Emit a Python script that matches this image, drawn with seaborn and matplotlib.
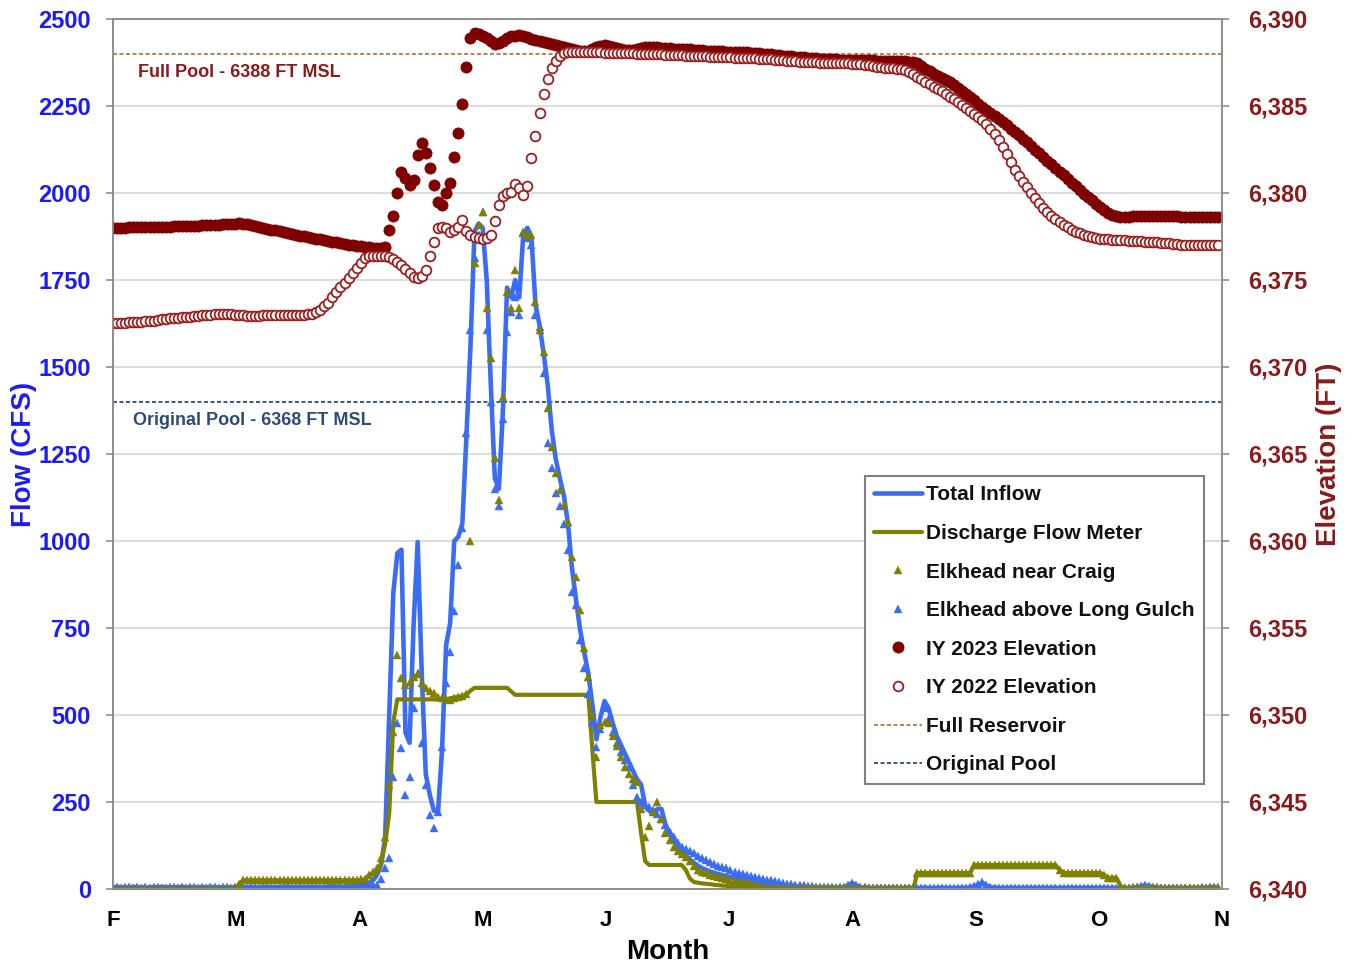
import numpy as np
import matplotlib
matplotlib.use("Agg")
import matplotlib.pyplot as plt
import matplotlib.transforms as mtransforms
from matplotlib.ticker import FuncFormatter, MultipleLocator
import seaborn as sns

# ---------------- data (daily values, day 0 = 1 Feb) ----------------
month_labels = ["F", "M", "A", "M", "J", "J", "A", "S", "O", "N"]
axis_days = 273

total_inflow = [
    5, 6, 5, 4, 5, 6, 5, 5, 4, 5,
    5, 5, 6, 5, 4, 5, 5, 6, 5, 5,
    4, 5, 5, 5, 6, 5, 5, 4, 5, 5,
    5, 6, 5, 5, 5, 4, 5, 6, 5, 5,
    5, 5, 6, 5, 5, 5, 4, 5, 6, 5,
    6, 5, 5, 6, 7, 6, 5, 6, 7, 8,
    10, 12, 14, 18, 25, 40, 70, 150, 500, 850,
    965, 975, 450, 420, 760, 997, 620, 330, 270, 225,
    220, 400, 700, 765, 1000, 1012, 1050, 1300, 1560, 1890,
    1912, 1900, 1750, 1450, 1180, 1150, 1380, 1728, 1700, 1750,
    1700, 1880, 1900, 1874, 1680, 1620, 1540, 1450, 1319, 1235,
    1180, 1130, 1050, 920, 830, 744, 680, 620, 530, 430,
    494, 540, 520, 477, 440, 415, 390, 365, 340, 315,
    300, 240, 225, 218, 230, 230, 185, 160, 140, 120,
    105, 95, 85, 75, 67, 60, 55, 50, 46, 43,
    40, 37, 34, 31, 29, 27, 25, 22, 19, 16,
    14, 12, 11, 10, 9, 8, 8, 7, 7, 6,
    6, 5, 5, 5, 4, 4, 4, 5, 4, 4,
    5, 10, 17, 10, 5, 4, 4, 3, 3, 4,
    3, 3, 4, 3, 3, 3, 4, 3, 3, 3,
    4, 3, 3, 3, 4, 3, 3, 3, 3, 4,
    3, 4, 8, 12, 18, 10, 5, 4, 3, 3,
    3, 4, 3, 3, 3, 4, 3, 3, 3, 4,
    3, 3, 4, 3, 3, 3, 4, 3, 3, 3,
    4, 3, 3, 3, 4, 3, 3, 3, 4, 3,
    3, 4, 5, 8, 10, 9, 6, 4, 4, 3,
    3, 4, 3, 3, 4, 3, 3, 4, 3, 4,
    5, 6, 4,
]

discharge = [
    0, 0, 0, 0, 0, 0, 0, 0, 0, 0,
    0, 0, 0, 0, 0, 0, 0, 0, 0, 0,
    0, 0, 0, 0, 0, 0, 0, 0, 0, 0,
    0, 12, 25, 25, 25, 25, 25, 25, 25, 25,
    25, 25, 25, 25, 25, 25, 25, 25, 25, 25,
    25, 25, 25, 25, 25, 25, 25, 25, 25, 25,
    25, 25, 25, 40, 46, 50, 75, 130, 218, 480,
    545, 545, 545, 545, 545, 545, 545, 545, 545, 545,
    545, 545, 545, 548, 550, 552, 555, 558, 570, 578,
    578, 578, 578, 578, 578, 578, 578, 578, 568, 558,
    558, 558, 558, 558, 558, 558, 558, 558, 558, 558,
    558, 558, 558, 558, 558, 558, 558, 558, 400, 250,
    250, 250, 250, 250, 250, 250, 250, 250, 250, 250,
    160, 80, 69, 69, 69, 69, 69, 69, 69, 69,
    69, 55, 30, 20, 18, 16, 15, 14, 12, 11,
    10, 9, 8, 7, 6, 5, 4, 3, 2, 1,
    0, 0, 0, 0, 0, 0, 0, 0, 0, 0,
    0, 0, 0, 0, 0, 0, 0, 0, 0, 0,
    0, 0, 0, 0, 0, 0, 0, 0, 0, 0,
    0, 0, 0, 0, 0, 0, 0, 0, 46, 46,
    46, 46, 46, 46, 46, 46, 46, 46, 46, 46,
    46, 46, 69, 69, 69, 69, 69, 69, 69, 69,
    69, 69, 69, 69, 69, 69, 69, 69, 69, 69,
    69, 69, 69, 55, 46, 46, 46, 46, 46, 46,
    46, 46, 46, 46, 40, 32, 32, 32, 10, 0,
    0, 0, 0, 0, 0, 0, 0, 0, 0, 0,
    0, 0, 0, 0, 0, 0, 0, 0, 0, 0,
    0, 0, 0,
]

elkhead_craig = [
    1, 1, 1, 1, 1, 1, 1, 1, 1, 1,
    1, 1, 1, 1, 1, 1, 1, 1, 1, 1,
    1, 1, 1, 1, 1, 1, 1, 1, 1, 1,
    1, 14, 26, 27, 27, 26, 27, 27, 26, 27,
    27, 26, 27, 27, 26, 27, 27, 27, 26, 27,
    27, 27, 26, 27, 27, 26, 27, 27, 27, 26,
    27, 28, 30, 40, 50, 60, 90, 150, 300, 450,
    672, 606, 586, 595, 609, 618, 592, 578, 569, 563,
    552, 549, 546, 543, 549, 552, 555, 560, 1000, 1799,
    1908, 1946, 1669, 1526, 1238, 1118, 1415, 1716, 1669, 1779,
    1669, 1889, 1880, 1879, 1688, 1606, 1544, 1381, 1271, 1194,
    1147, 1103, 1056, 955, 897, 802, 692, 610, 500, 380,
    471, 480, 476, 440, 410, 380, 350, 330, 315, 308,
    230, 150, 180, 220, 251, 200, 160, 140, 122, 110,
    100, 93, 80, 65, 55, 50, 45, 40, 37, 34,
    32, 29, 26, 23, 21, 19, 17, 14, 11, 9,
    7, 5, 4, 3, 2, 2, 2, 2, 2, 2,
    2, 2, 2, 2, 2, 2, 2, 2, 2, 2,
    2, 2, 2, 2, 2, 2, 2, 2, 2, 2,
    2, 2, 2, 2, 2, 2, 2, 2, 46, 46,
    46, 46, 46, 46, 46, 46, 46, 46, 46, 46,
    46, 46, 69, 69, 69, 69, 69, 69, 69, 69,
    69, 69, 69, 69, 69, 69, 69, 69, 69, 69,
    69, 69, 69, 55, 46, 46, 46, 46, 46, 46,
    46, 46, 46, 46, 40, 32, 32, 32, 10, 2,
    2, 2, 2, 2, 2, 2, 2, 2, 2, 2,
    2, 2, 2, 2, 2, 2, 2, 2, 2, 2,
    2, 2, 2,
]

elkhead_long_gulch = [
    4, 6, 3, 5, 7, 4, 5, 3, 6, 4,
    5, 7, 4, 3, 6, 5, 4, 6, 3, 5,
    6, 4, 5, 3, 7, 5, 4, 6, 5, 3,
    5, 4, 6, 3, 5, 7, 4, 5, 6, 4,
    3, 6, 5, 8, 4, 5, 10, 4, 6, 5,
    7, 4, 5, 9, 6, 5, 8, 6, 7, 9,
    10, 8, 12, 11, 11, 12, 30, 60, 88, 322,
    476, 404, 270, 322, 520, 620, 420, 299, 213, 174,
    220, 409, 591, 682, 800, 931, 1036, 1310, 1606, 1812,
    1880, 1946, 1606, 1400, 1150, 1100, 1350, 1600, 1659, 1700,
    1649, 1884, 1870, 1850, 1650, 1616, 1482, 1281, 1209, 1137,
    1100, 1050, 974, 854, 816, 716, 634, 560, 480, 409,
    460, 520, 490, 450, 419, 395, 370, 351, 300, 265,
    250, 241, 235, 227, 215, 200, 184, 165, 150, 131,
    122, 115, 108, 103, 95, 90, 83, 78, 72, 67,
    63, 59, 55, 50, 46, 43, 40, 37, 34, 31,
    29, 27, 26, 22, 19, 17, 15, 13, 12, 11,
    11, 9, 8, 7, 6, 6, 5, 5, 4, 5,
    6, 12, 18, 11, 6, 5, 4, 4, 3, 4,
    3, 4, 3, 3, 4, 3, 3, 4, 3, 3,
    4, 3, 3, 4, 3, 3, 4, 3, 3, 4,
    3, 5, 9, 14, 19, 11, 6, 4, 3, 4,
    3, 3, 4, 3, 3, 4, 3, 3, 4, 3,
    3, 4, 3, 3, 4, 3, 3, 4, 3, 3,
    4, 3, 3, 4, 3, 3, 4, 3, 4, 3,
    4, 5, 6, 9, 11, 9, 6, 5, 4, 4,
    3, 4, 4, 3, 4, 4, 3, 4, 5, 4,
    5, 6, 5,
]

elevation_2023 = [
    6378.00, 6378.00, 6378.01, 6378.01, 6378.02, 6378.02, 6378.03, 6378.03, 6378.04, 6378.04,
    6378.05, 6378.05, 6378.06, 6378.07, 6378.07, 6378.08, 6378.09, 6378.10, 6378.10, 6378.11,
    6378.12, 6378.13, 6378.14, 6378.15, 6378.16, 6378.17, 6378.18, 6378.20, 6378.21, 6378.22,
    6378.24, 6378.25, 6378.24, 6378.20, 6378.15, 6378.10, 6378.05, 6378.00, 6377.95, 6377.90,
    6377.86, 6377.80, 6377.76, 6377.70, 6377.65, 6377.60, 6377.55, 6377.50, 6377.45, 6377.41,
    6377.37, 6377.33, 6377.29, 6377.25, 6377.20, 6377.16, 6377.12, 6377.08, 6377.04, 6377.00,
    6376.97, 6376.94, 6376.91, 6376.88, 6376.86, 6376.84, 6376.85, 6376.91, 6377.87, 6378.68,
    6379.98, 6381.22, 6380.84, 6380.46, 6380.75, 6382.18, 6382.89, 6382.28, 6381.42, 6380.46,
    6379.50, 6379.31, 6379.98, 6380.59, 6382.09, 6383.43, 6385.11, 6387.26, 6388.89, 6389.17,
    6389.12, 6389.05, 6388.89, 6388.76, 6388.55, 6388.60, 6388.76, 6388.92, 6389.00, 6389.05,
    6389.08, 6389.04, 6388.95, 6388.86, 6388.80, 6388.74, 6388.69, 6388.62, 6388.55, 6388.49,
    6388.44, 6388.40, 6388.33, 6388.26, 6388.20, 6388.15, 6388.14, 6388.16, 6388.28, 6388.38,
    6388.45, 6388.50, 6388.45, 6388.38, 6388.32, 6388.27, 6388.24, 6388.22, 6388.22, 6388.25,
    6388.35, 6388.40, 6388.41, 6388.40, 6388.38, 6388.36, 6388.34, 6388.32, 6388.30, 6388.28,
    6388.27, 6388.26, 6388.25, 6388.24, 6388.22, 6388.20, 6388.18, 6388.17, 6388.16, 6388.15,
    6388.14, 6388.13, 6388.13, 6388.12, 6388.11, 6388.10, 6388.08, 6388.06, 6388.04, 6388.02,
    6388.00, 6387.98, 6387.96, 6387.94, 6387.92, 6387.90, 6387.88, 6387.86, 6387.84, 6387.82,
    6387.80, 6387.78, 6387.76, 6387.74, 6387.72, 6387.71, 6387.70, 6387.69, 6387.68, 6387.67,
    6387.66, 6387.65, 6387.64, 6387.64, 6387.63, 6387.63, 6387.62, 6387.62, 6387.61, 6387.61,
    6387.60, 6387.60, 6387.59, 6387.58, 6387.57, 6387.56, 6387.55, 6387.54, 6387.45, 6387.30,
    6387.15, 6387.00, 6386.85, 6386.72, 6386.60, 6386.50, 6386.39, 6386.22, 6386.04, 6385.86,
    6385.68, 6385.50, 6385.32, 6385.14, 6384.96, 6384.78, 6384.60, 6384.42, 6384.24, 6384.06,
    6383.88, 6383.70, 6383.52, 6383.33, 6383.12, 6382.91, 6382.70, 6382.49, 6382.28, 6382.07,
    6381.86, 6381.65, 6381.44, 6381.23, 6381.02, 6380.81, 6380.60, 6380.39, 6380.18, 6379.97,
    6379.78, 6379.58, 6379.38, 6379.18, 6379.00, 6378.85, 6378.74, 6378.66, 6378.64, 6378.63,
    6378.64, 6378.65, 6378.66, 6378.67, 6378.68, 6378.68, 6378.67, 6378.66, 6378.68, 6378.70,
    6378.69, 6378.67, 6378.65, 6378.64, 6378.64, 6378.63, 6378.62, 6378.62, 6378.61, 6378.61,
    6378.60, 6378.60, 6378.60,
]

elevation_2022 = [
    6372.51, 6372.52, 6372.54, 6372.55, 6372.57, 6372.58, 6372.60, 6372.61, 6372.63, 6372.65,
    6372.67, 6372.70, 6372.73, 6372.78, 6372.80, 6372.82, 6372.84, 6372.86, 6372.88, 6372.90,
    6372.92, 6372.94, 6372.96, 6372.98, 6373.00, 6373.04, 6373.05, 6373.04, 6373.03, 6373.02,
    6373.00, 6372.98, 6372.96, 6372.94, 6372.93, 6372.94, 6372.95, 6372.96, 6372.97, 6372.97,
    6372.98, 6372.98, 6372.99, 6372.99, 6372.99, 6373.00, 6373.00, 6373.01, 6373.02, 6373.07,
    6373.15, 6373.30, 6373.48, 6373.70, 6374.00, 6374.30, 6374.58, 6374.85, 6375.12, 6375.40,
    6375.70, 6375.98, 6376.25, 6376.36, 6376.38, 6376.39, 6376.38, 6376.37, 6376.34, 6376.20,
    6376.02, 6375.85, 6375.62, 6375.40, 6375.20, 6375.12, 6375.25, 6375.60, 6376.40, 6377.20,
    6377.97, 6378.06, 6378.00, 6377.75, 6377.85, 6378.06, 6378.45, 6377.80, 6377.59, 6377.45,
    6377.39, 6377.36, 6377.39, 6377.59, 6378.40, 6379.30, 6379.80, 6380.00, 6380.07, 6380.50,
    6380.30, 6379.90, 6380.40, 6382.00, 6383.30, 6384.60, 6385.70, 6386.55, 6387.20, 6387.60,
    6387.90, 6388.05, 6388.10, 6388.12, 6388.13, 6388.13, 6388.12, 6388.11, 6388.10, 6388.09,
    6388.08, 6388.07, 6388.06, 6388.05, 6388.04, 6388.03, 6388.03, 6388.02, 6388.02, 6388.01,
    6388.00, 6388.00, 6387.99, 6387.98, 6387.97, 6387.96, 6387.95, 6387.94, 6387.93, 6387.92,
    6387.91, 6387.90, 6387.89, 6387.88, 6387.87, 6387.86, 6387.85, 6387.84, 6387.83, 6387.82,
    6387.81, 6387.80, 6387.79, 6387.78, 6387.77, 6387.76, 6387.75, 6387.74, 6387.73, 6387.72,
    6387.71, 6387.70, 6387.68, 6387.66, 6387.64, 6387.62, 6387.60, 6387.58, 6387.56, 6387.54,
    6387.53, 6387.52, 6387.51, 6387.50, 6387.49, 6387.48, 6387.47, 6387.47, 6387.46, 6387.46,
    6387.45, 6387.45, 6387.44, 6387.42, 6387.40, 6387.37, 6387.34, 6387.30, 6387.26, 6387.22,
    6387.19, 6387.17, 6387.16, 6387.15, 6387.14, 6387.05, 6386.95, 6386.82, 6386.69, 6386.55,
    6386.40, 6386.26, 6386.12, 6385.98, 6385.84, 6385.69, 6385.54, 6385.38, 6385.22, 6385.05,
    6384.88, 6384.71, 6384.54, 6384.37, 6384.19, 6383.95, 6383.67, 6383.37, 6383.05, 6382.65,
    6382.22, 6381.78, 6381.32, 6380.98, 6380.65, 6380.32, 6379.98, 6379.70, 6379.42, 6379.13,
    6378.90, 6378.70, 6378.52, 6378.35, 6378.18, 6378.03, 6377.90, 6377.78, 6377.68, 6377.59,
    6377.51, 6377.45, 6377.40, 6377.38, 6377.36, 6377.34, 6377.32, 6377.30, 6377.29, 6377.28,
    6377.27, 6377.25, 6377.24, 6377.22, 6377.21, 6377.20, 6377.18, 6377.16, 6377.14, 6377.12,
    6377.10, 6377.08, 6377.06, 6377.04, 6377.03, 6377.02, 6377.02, 6377.01, 6377.01, 6377.01,
    6377.01, 6377.01, 6377.01,
]

full_pool = 6388
original_pool = 6368
full_pool_text = "Full Pool - 6388 FT MSL"
original_pool_text = "Original Pool - 6368 FT MSL"

# ---------------- styling ----------------
BLUE = "#3A6CF4"
OLIVE = "#808000"
DARKRED = "#7F0000"
OPENRED = "#9A2020"
FULLPOOL_C = "#B8743E"
ORIGPOOL_C = "#2E4A78"
LEFT_LABEL_C = "#1C1CF2"
RIGHT_LABEL_C = "#8B1A1A"
SPINE_C = "#8C8C8C"

sns.set_theme(style="white")
plt.rcParams["font.family"] = ["Liberation Sans", "DejaVu Sans"]
plt.rcParams["font.weight"] = "bold"

fig = plt.figure(figsize=(13.55, 9.66), dpi=100)
ax = fig.add_axes([113 / 1355, 77 / 966, 1109 / 1355, 870 / 966])
ax2 = ax.twinx()

ax.set_xlim(0, axis_days)
ax.set_ylim(0, 2500)
ax2.set_ylim(6340, 6390)

# reference pool lines (x spans the axes, y in elevation units)
pool_tr = mtransforms.blended_transform_factory(ax.transAxes, ax2.transData)
ax.plot([0, 1], [full_pool, full_pool], transform=pool_tr, color=FULLPOOL_C,
        linestyle=(0, (2.2, 1.4)), linewidth=1.3, zorder=1.5, label="Full Reservoir")
ax.plot([0, 1], [original_pool, original_pool], transform=pool_tr, color=ORIGPOOL_C,
        linestyle=(0, (2.2, 1.4)), linewidth=1.3, zorder=1.5, label="Original Pool")

# flow series
sns.lineplot(x=np.arange(len(total_inflow)), y=total_inflow, ax=ax, color=BLUE,
             linewidth=3.3, label="Total Inflow", legend=False, errorbar=None)
sns.lineplot(x=np.arange(len(discharge)), y=discharge, ax=ax, color=OLIVE,
             linewidth=3.0, label="Discharge Flow Meter", legend=False, errorbar=None)
sns.lineplot(x=np.arange(len(elkhead_long_gulch)), y=elkhead_long_gulch, ax=ax, color=BLUE,
             marker="^", linestyle="", markersize=5.5, markeredgecolor=BLUE, markeredgewidth=0.3,
             label="Elkhead above Long Gulch", legend=False, errorbar=None)
sns.lineplot(x=np.arange(len(elkhead_craig)), y=elkhead_craig, ax=ax, color=OLIVE,
             marker="^", linestyle="", markersize=5.5, markeredgecolor=OLIVE, markeredgewidth=0.3,
             label="Elkhead near Craig", legend=False, errorbar=None)

# elevation series
sns.lineplot(x=np.arange(len(elevation_2023)), y=elevation_2023, ax=ax2, color=DARKRED,
             marker="o", linestyle="", markersize=8, markeredgecolor=DARKRED,
             markeredgewidth=0.6, label="IY 2023 Elevation", legend=False, errorbar=None)
sns.lineplot(x=np.arange(len(elevation_2022)), y=elevation_2022, ax=ax2, color=OPENRED,
             marker="o", linestyle="", markersize=7, markerfacecolor="white",
             markeredgecolor=OPENRED, markeredgewidth=1.3,
             label="IY 2022 Elevation", legend=False, errorbar=None)

# ---------------- axes cosmetics ----------------
ax.grid(False)
ax2.grid(False)
ax.yaxis.grid(True, color="#D9D9D9", linewidth=1.3)
ax.set_axisbelow(True)

ax.set_xticks(np.linspace(0, axis_days, len(month_labels)))
ax.set_xticklabels(month_labels)
ax.yaxis.set_major_locator(MultipleLocator(250))
ax2.yaxis.set_major_locator(MultipleLocator(5))
ax2.yaxis.set_major_formatter(FuncFormatter(lambda v, p: f"{v:,.0f}"))

for a in (ax, ax2):
    for s in a.spines.values():
        s.set_color(SPINE_C)
        s.set_linewidth(1.2)
        s.set_visible(True)

ax.tick_params(axis="x", length=6, width=1.2, color=SPINE_C, direction="out",
               labelsize=16, labelcolor="black", pad=9)
ax.tick_params(axis="y", length=5, width=1.2, color=SPINE_C, direction="out",
               labelsize=17, labelcolor=LEFT_LABEL_C, pad=11, left=True)
ax2.tick_params(axis="y", length=5, width=1.2, color=SPINE_C, direction="out",
                labelsize=17, labelcolor=RIGHT_LABEL_C, pad=14, right=True)
for lab in ax.get_xticklabels() + ax.get_yticklabels() + ax2.get_yticklabels():
    lab.set_fontweight("bold")

ax.set_xlabel("Month", fontsize=20, fontweight="bold", color="black", labelpad=6)
ax.set_ylabel("Flow (CFS)", fontsize=20, fontweight="bold", color=LEFT_LABEL_C, labelpad=1)
ax2.set_ylabel("Elevation (FT)", fontsize=20, fontweight="bold", color=RIGHT_LABEL_C,
               labelpad=6, rotation=90)

# pool annotations
ax.text(0.0225, full_pool - 1.05, full_pool_text, transform=pool_tr, color=RIGHT_LABEL_C,
        fontsize=13, fontweight="bold", va="center", ha="left")
ax.text(0.018, original_pool - 1.05, original_pool_text, transform=pool_tr, color=ORIGPOOL_C,
        fontsize=13, fontweight="bold", va="center", ha="left")

# legend
h1, lab1 = ax.get_legend_handles_labels()
h2, lab2 = ax2.get_legend_handles_labels()
hmap = dict(zip(lab1 + lab2, h1 + h2))
order = ["Total Inflow", "Discharge Flow Meter", "Elkhead near Craig",
         "Elkhead above Long Gulch", "IY 2023 Elevation", "IY 2022 Elevation",
         "Full Reservoir", "Original Pool"]
leg = ax2.legend([hmap[k] for k in order], order, loc="upper right",
                 bbox_to_anchor=((1204 - 113) / 1109, (889 - 476) / 870),
                 borderaxespad=0, frameon=True, fancybox=False, framealpha=1,
                 edgecolor="#7F7F7F", handlelength=2.3, handletextpad=0.2,
                 labelspacing=0.94, borderpad=0.45, prop={"weight": "bold", "size": 15})
leg.get_frame().set_linewidth(1.5)
for t in leg.get_texts():
    t.set_color("#111111")

fig.savefig("out.png", dpi=100)
